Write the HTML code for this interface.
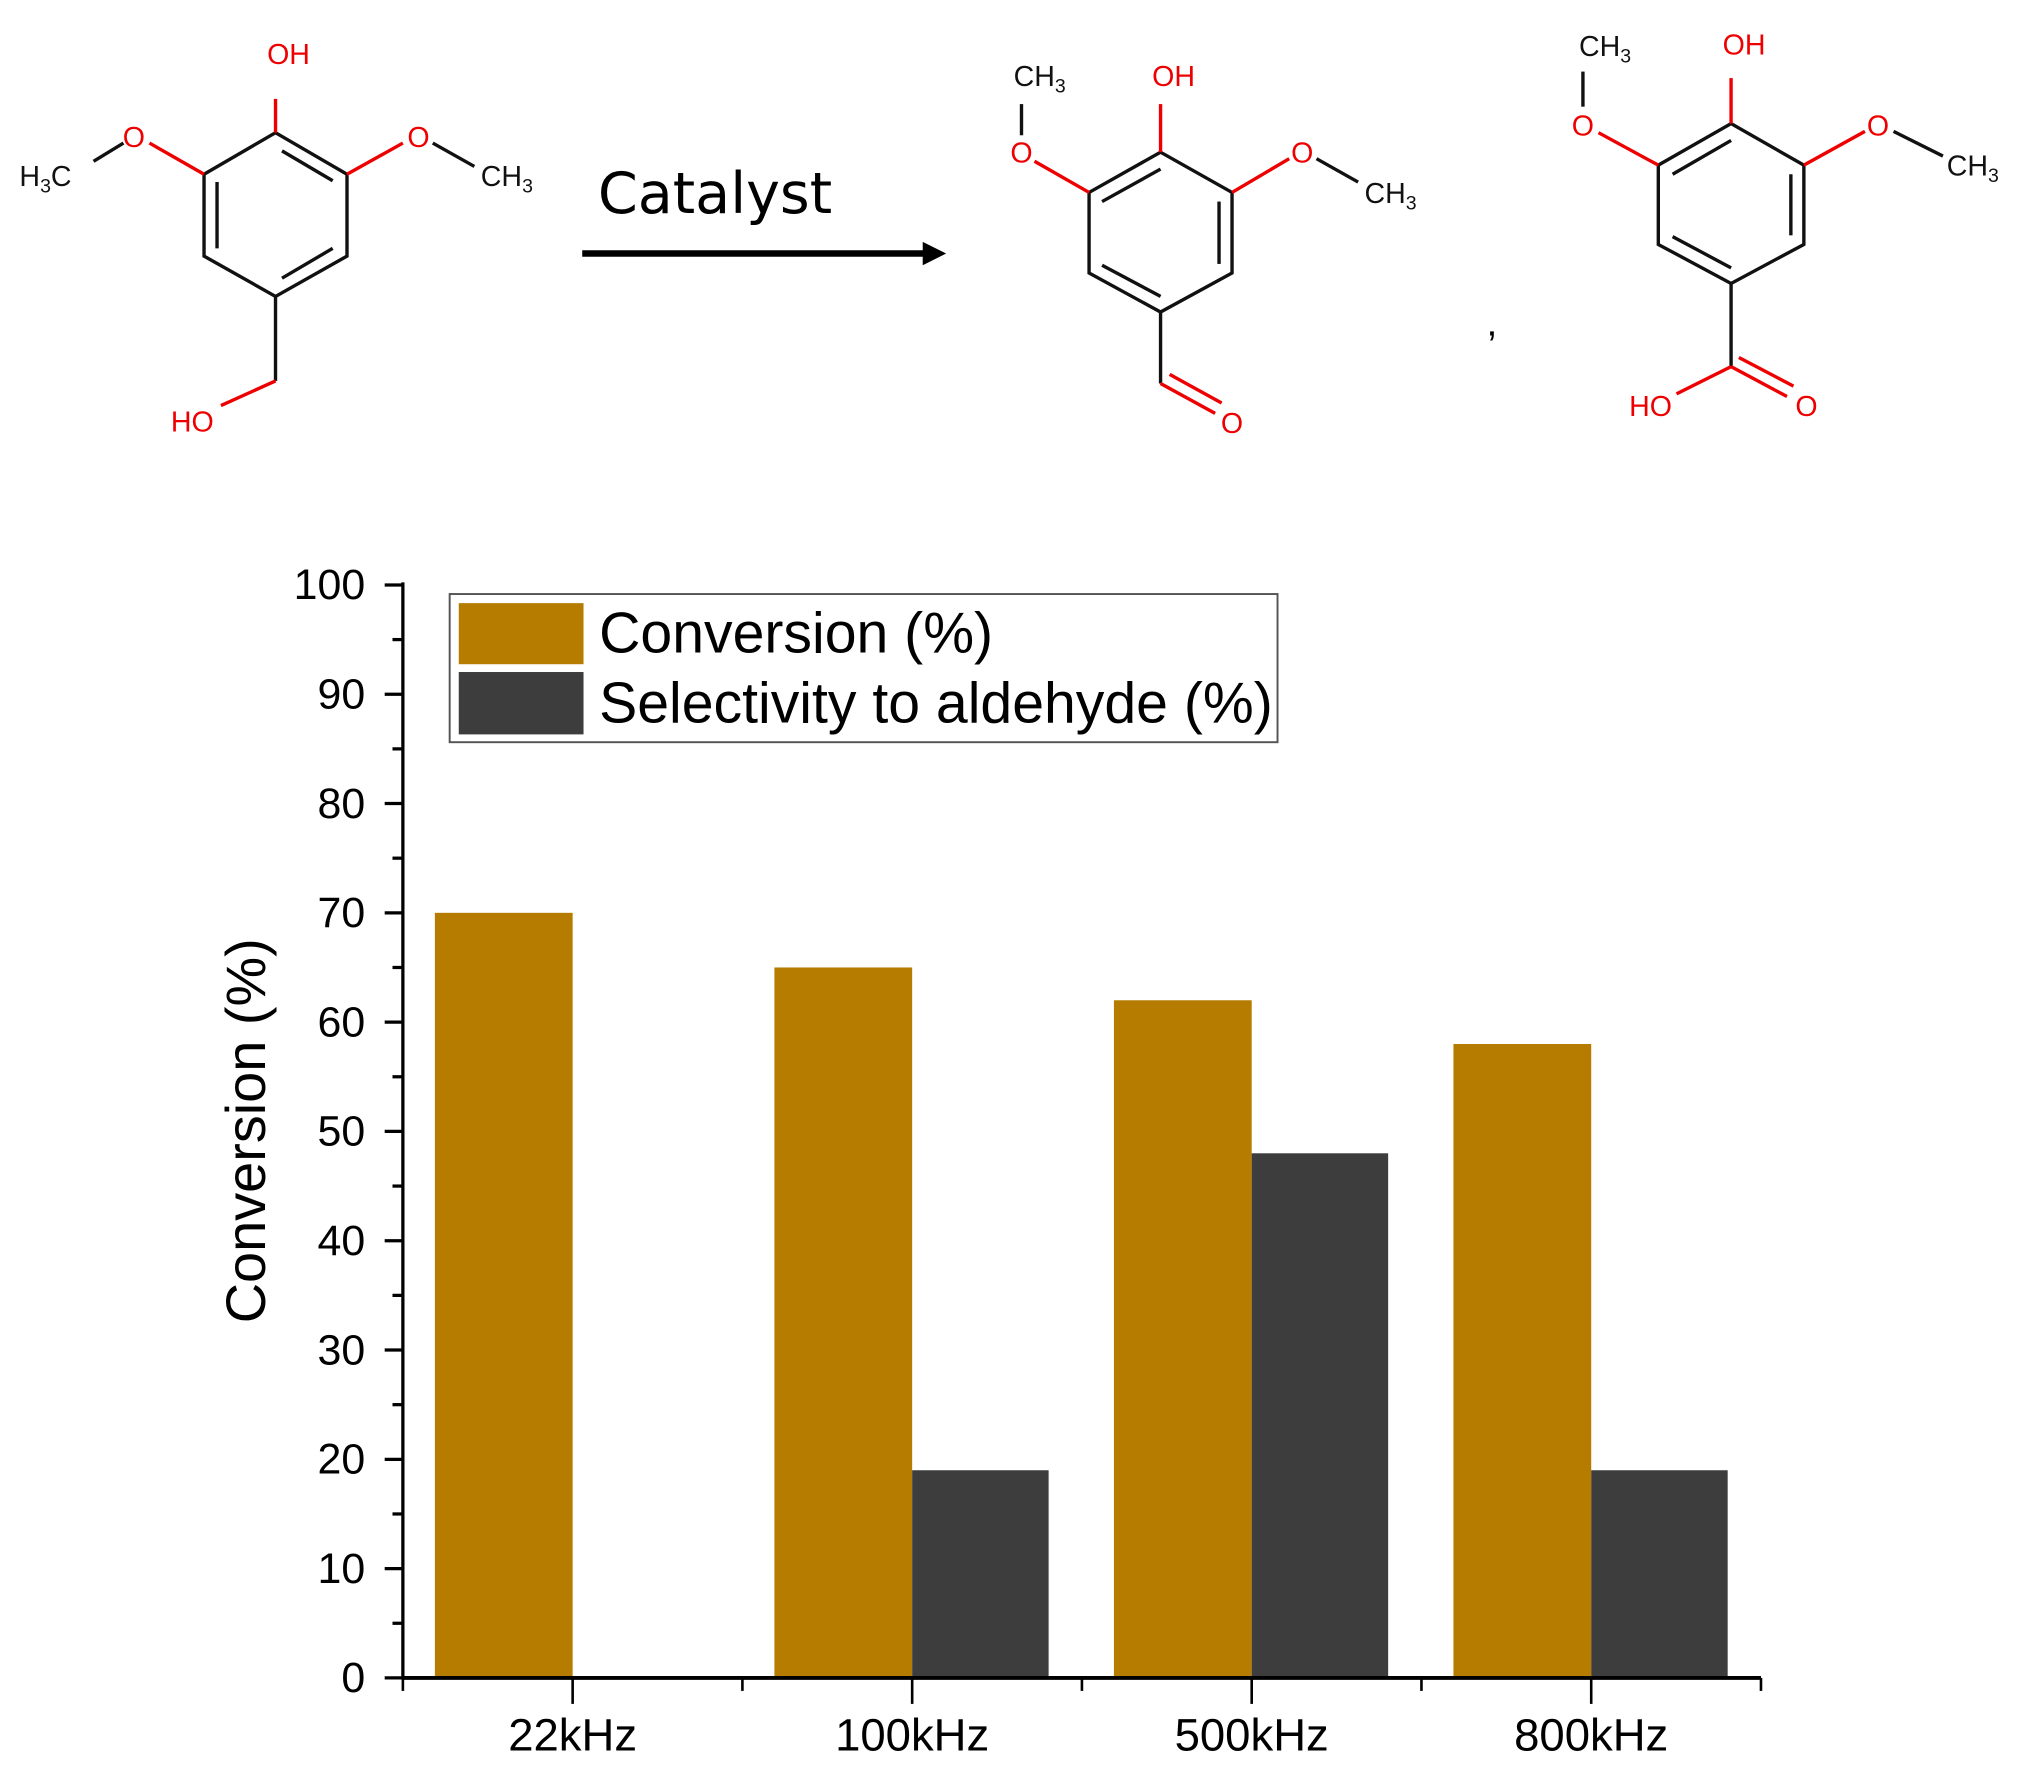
<!DOCTYPE html>
<html><head><meta charset="utf-8"><style>
html,body{margin:0;padding:0;background:#fff;}
svg{display:block;font-family:"Liberation Sans",Arial,sans-serif;}
</style></head><body>
<svg id="fig" width="2017" height="1769" viewBox="0 0 1552 1361" xmlns="http://www.w3.org/2000/svg">
<g id="chem" stroke-width="2.6" fill="none">
  <g>
    <polygon points="212,102 267,134 267,197 212,228 157,197 157,134" stroke="#111"/>
    <line x1="217" y1="116" x2="256" y2="139" stroke="#111"/>
    <line x1="256" y1="191" x2="217" y2="214" stroke="#111"/>
    <line x1="167" y1="140" x2="167" y2="191" stroke="#111"/>
    <line x1="212" y1="102" x2="212" y2="76" stroke="#e00"/>
    <line x1="157" y1="134" x2="115" y2="110" stroke="#e00"/>
    <line x1="95" y1="110" x2="72" y2="124" stroke="#111"/>
    <line x1="267" y1="134" x2="310" y2="110" stroke="#e00"/>
    <line x1="333" y1="110" x2="365" y2="128" stroke="#111"/>
    <line x1="212" y1="228" x2="212" y2="293" stroke="#111"/>
    <line x1="212" y1="293" x2="170" y2="312" stroke="#e00"/>
    <text x="222" y="49" fill="#e00" stroke="none" font-size="22" text-anchor="middle">OH</text>
    <text x="103" y="113" fill="#e00" stroke="none" font-size="22" text-anchor="middle">O</text>
    <text x="322" y="113" fill="#e00" stroke="none" font-size="22" text-anchor="middle">O</text>
    <text x="35" y="143" fill="#111" stroke="none" font-size="22" text-anchor="middle">H<tspan font-size="15" dy="5">3</tspan><tspan dy="-5">C</tspan></text>
    <text x="390" y="143" fill="#111" stroke="none" font-size="22" text-anchor="middle">CH<tspan font-size="15" dy="5">3</tspan></text>
    <text x="148" y="332" fill="#e00" stroke="none" font-size="22" text-anchor="middle">HO</text>
  </g>
  <g>
    <line x1="448" y1="195" x2="712" y2="195" stroke="#000" stroke-width="5"/>
    <polygon points="710,186 728,195 710,204" fill="#000" stroke="none"/>
    <text x="460" y="164" fill="#000" stroke="none" font-size="44" font-family="DejaVu Sans, sans-serif">Catalyst</text>
  </g>
  <g>
    <polygon points="893,117 948,148 948,210 893,240 838,210 838,148" stroke="#111"/>
    <line x1="893" y1="130" x2="848" y2="155" stroke="#111"/>
    <line x1="938" y1="155" x2="938" y2="203" stroke="#111"/>
    <line x1="848" y1="204" x2="893" y2="228" stroke="#111"/>
    <line x1="893" y1="117" x2="893" y2="80" stroke="#e00"/>
    <line x1="838" y1="148" x2="796" y2="124" stroke="#e00"/>
    <line x1="786" y1="104" x2="786" y2="80" stroke="#111"/>
    <line x1="948" y1="148" x2="992" y2="122" stroke="#e00"/>
    <line x1="1013" y1="122" x2="1045" y2="140" stroke="#111"/>
    <line x1="893" y1="240" x2="893" y2="295" stroke="#111"/>
    <line x1="893" y1="295" x2="935" y2="318" stroke="#e00"/>
    <line x1="900" y1="288" x2="940" y2="310" stroke="#e00"/>
    <text x="903" y="66" fill="#e00" stroke="none" font-size="22" text-anchor="middle">OH</text>
    <text x="786" y="125" fill="#e00" stroke="none" font-size="22" text-anchor="middle">O</text>
    <text x="1002" y="125" fill="#e00" stroke="none" font-size="22" text-anchor="middle">O</text>
    <text x="800" y="66" fill="#111" stroke="none" font-size="22" text-anchor="middle">CH<tspan font-size="15" dy="5">3</tspan></text>
    <text x="1070" y="156" fill="#111" stroke="none" font-size="22" text-anchor="middle">CH<tspan font-size="15" dy="5">3</tspan></text>
    <text x="948" y="333" fill="#e00" stroke="none" font-size="22" text-anchor="middle">O</text>
  </g>
  <text x="1148" y="258" fill="#000" stroke="none" font-size="30" text-anchor="middle">,</text>
  <g>
    <polygon points="1332,95 1388,127 1388,188 1332,218 1276,188 1276,127" stroke="#111"/>
    <line x1="1332" y1="108" x2="1287" y2="134" stroke="#111"/>
    <line x1="1378" y1="134" x2="1378" y2="181" stroke="#111"/>
    <line x1="1287" y1="182" x2="1332" y2="206" stroke="#111"/>
    <line x1="1332" y1="95" x2="1332" y2="60" stroke="#e00"/>
    <line x1="1276" y1="127" x2="1230" y2="102" stroke="#e00"/>
    <line x1="1218" y1="82" x2="1218" y2="55" stroke="#111"/>
    <line x1="1388" y1="127" x2="1435" y2="101" stroke="#e00"/>
    <line x1="1457" y1="101" x2="1495" y2="120" stroke="#111"/>
    <line x1="1332" y1="218" x2="1332" y2="282" stroke="#111"/>
    <line x1="1332" y1="282" x2="1290" y2="303" stroke="#e00"/>
    <line x1="1332" y1="282" x2="1375" y2="305" stroke="#e00"/>
    <line x1="1338" y1="275" x2="1380" y2="297" stroke="#e00"/>
    <text x="1342" y="42" fill="#e00" stroke="none" font-size="22" text-anchor="middle">OH</text>
    <text x="1218" y="104" fill="#e00" stroke="none" font-size="22" text-anchor="middle">O</text>
    <text x="1445" y="104" fill="#e00" stroke="none" font-size="22" text-anchor="middle">O</text>
    <text x="1235" y="43" fill="#111" stroke="none" font-size="22" text-anchor="middle">CH<tspan font-size="15" dy="5">3</tspan></text>
    <text x="1518" y="135" fill="#111" stroke="none" font-size="22" text-anchor="middle">CH<tspan font-size="15" dy="5">3</tspan></text>
    <text x="1270" y="320" fill="#e00" stroke="none" font-size="22" text-anchor="middle">HO</text>
    <text x="1390" y="320" fill="#e00" stroke="none" font-size="22" text-anchor="middle">O</text>
  </g>
</g>
<g id="chart"></g>
</svg>
<script>
const categories = ["22kHz", "100kHz", "500kHz", "800kHz"];
const conversion = [70, 65, 62, 58];
const selectivity = [0, 19, 48, 19];
const yTicks = [0, 10, 20, 30, 40, 50, 60, 70, 80, 90, 100];

const NS = "http://www.w3.org/2000/svg";
const g = document.getElementById("chart");
const X0 = 310, X1 = 1355, Y0 = 1291, Y100 = 450;
const band = (X1 - X0) / categories.length;
const yS = v => Y0 - (v / 100) * (Y0 - Y100);
const xC = i => X0 + band * (i + 0.5);
const barW = 105;
function el(tag, attrs, parent) {
  const e = document.createElementNS(NS, tag);
  for (const k in attrs) e.setAttribute(k, attrs[k]);
  (parent || g).appendChild(e);
  return e;
}
categories.forEach((c, i) => {
  const cv = el("rect", {x: xC(i) - barW - 1, y: yS(conversion[i]), width: barW + 1, height: Y0 - yS(conversion[i]), fill: "#b57c00"});
  
  
  const sv = el("rect", {x: xC(i), y: yS(selectivity[i]), width: barW, height: Y0 - yS(selectivity[i]), fill: "#3d3d3d"});
  
  
  const t = el("text", {x: xC(i), y: 1347, "font-size": 35, "text-anchor": "middle", fill: "#000"});
  t.textContent = c;
  
  
});
const ya = el("line", {x1: X0, y1: Y0 + 1, x2: X0, y2: Y100 - 2, stroke: "#000", "stroke-width": 2.5});


const xa = el("line", {x1: X0 - 1, y1: Y0, x2: X1, y2: Y0, stroke: "#000", "stroke-width": 3});


yTicks.forEach(v => {
  el("line", {x1: X0 - 14, y1: yS(v), x2: X0, y2: yS(v), stroke: "#000", "stroke-width": 2.5});
  if (v < 100) el("line", {x1: X0 - 8, y1: yS(v + 5), x2: X0, y2: yS(v + 5), stroke: "#000", "stroke-width": 2.5});
  const t = el("text", {x: 281, y: yS(v) + 11, "font-size": 33, "text-anchor": "end", fill: "#000"});
  t.textContent = v;
  
  
});
for (let i = 0; i <= categories.length; i++) {
  el("line", {x1: X0 + band * i, y1: Y0, x2: X0 + band * i, y2: Y0 + 10, stroke: "#000", "stroke-width": 2});
  if (i < categories.length) el("line", {x1: xC(i), y1: Y0, x2: xC(i), y2: Y0 + 20, stroke: "#000", "stroke-width": 2});
}
const yt = el("text", {x: 0, y: 0, transform: "translate(204,870) rotate(-90)", "font-size": 43, "text-anchor": "middle", fill: "#000"});
yt.textContent = "Conversion (%)";


const lg = el("g", {});


el("rect", {x: 346, y: 457, width: 637, height: 114, fill: "#fff", stroke: "#555", "stroke-width": 1.5}, lg);
el("rect", {x: 353, y: 464, width: 96, height: 47, fill: "#b57c00"}, lg);
el("rect", {x: 353, y: 517, width: 96, height: 48, fill: "#3d3d3d"}, lg);
const l1 = el("text", {x: 461, y: 502, "font-size": 44, fill: "#000"}, lg);
l1.textContent = "Conversion (%)";


const l2 = el("text", {x: 461, y: 556, "font-size": 44, fill: "#000"}, lg);
l2.textContent = "Selectivity to aldehyde (%)";


</script>
</body></html>
